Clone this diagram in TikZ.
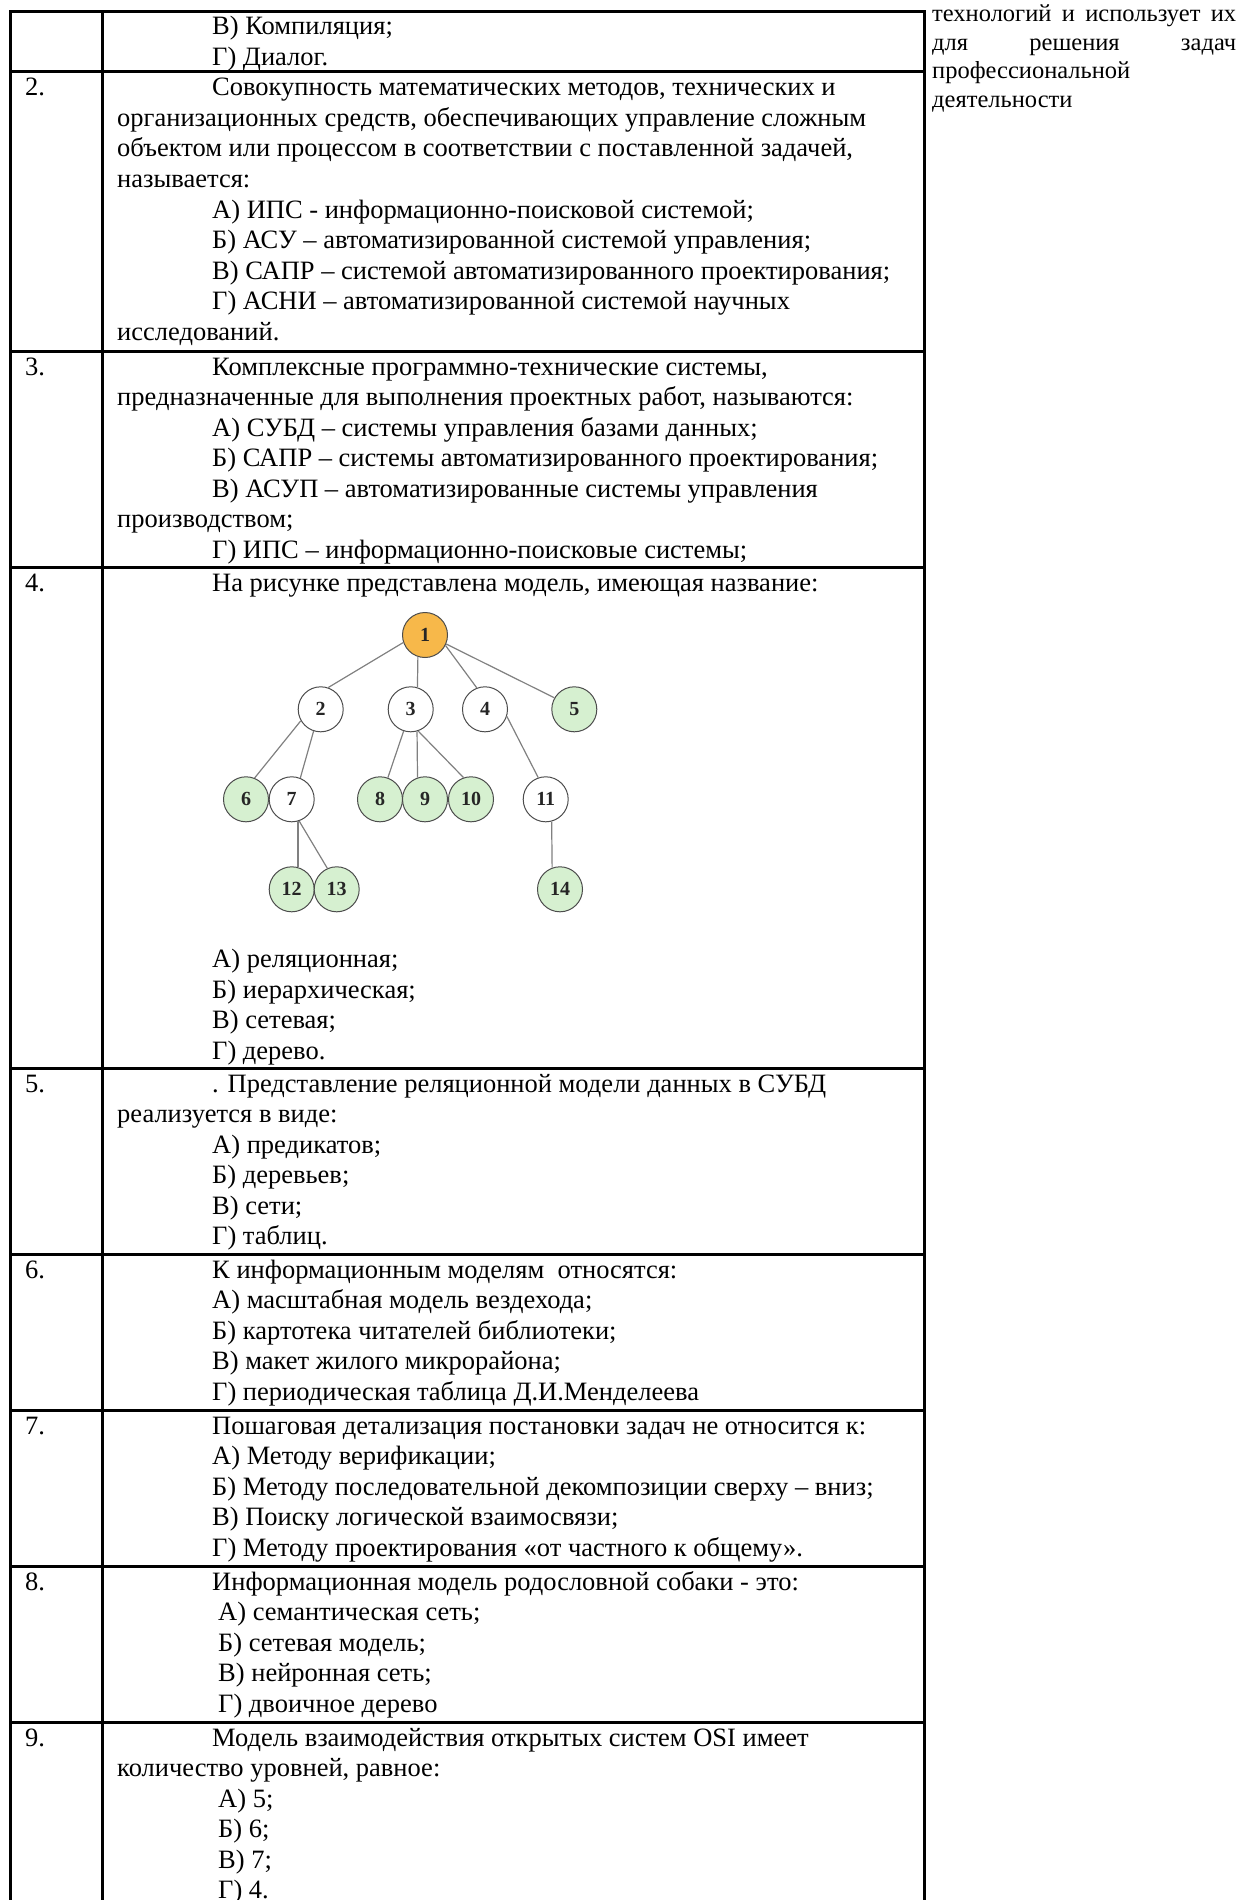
\documentclass[tikz,border=0pt]{standalone}
\usepackage{fontspec}
\setmainfont{Liberation Serif}
\usepackage{tikz}
\usetikzlibrary{arrows,shapes}

\definecolor{rootorange}{RGB}{247,184,74}
\definecolor{leafgreen}{RGB}{214,240,208}

\begin{document}
\begin{tikzpicture}[x=1pt,y=-1pt,
    rule/.style={line width=3pt},
    txt/.style={anchor=base west,inner sep=0pt,font=\fontsize{26.5}{30.5}\selectfont},
    side/.style={anchor=base west,inner sep=0pt,font=\fontsize{24.5}{29}\selectfont},
    vert/.style={circle,draw=black!70,line width=1pt,minimum size=45pt,inner sep=0pt,
                 font=\fontsize{20}{20}\selectfont\bfseries,text=black!85},
    leaf/.style={vert,fill=leafgreen},
    root/.style={vert,fill=rootorange},
    edge/.style={draw=black!50,line width=1.2pt}]
\useasboundingbox (0,0) rectangle (1240,1900);

% table frame
\draw[rule] (10,1900) -- (10,12) -- (924,12) -- (924,1900);
\draw[rule] (102,12) -- (102,1900);
\draw[rule] (10,72) -- (924,72);
\draw[rule] (10,351) -- (924,351);
\draw[rule] (10,567) -- (924,567);
\draw[rule] (10,1068) -- (924,1068);
\draw[rule] (10,1254) -- (924,1254);
\draw[rule] (10,1410) -- (924,1410);
\draw[rule] (10,1566) -- (924,1566);
\draw[rule] (10,1722) -- (924,1722);

% right column
\node[side] (s1) at (932,22) {\makebox[304pt][s]{технологий и использует их}};
\node[side] (s2) at (932,50.5) {\makebox[304pt][s]{для решения задач}};
\node[side] (s3) at (932,79) {профессиональной};
\node[side] (s4) at (932,107.5) {деятельности};

% row 1
\node[txt] (r1c) at (212,35) {В) Компиляция;};
\node[txt] (r1d) at (212,65.5) {Г) Диалог.};

% row 2
\node[txt] (r2n) at (25,96) {2.};
\node[txt] (r2q1) at (212,96) {Совокупность математических методов, технических и};
\node[txt] (r2q2) at (117,126.5) {организационных средств, обеспечивающих управление сложным};
\node[txt] (r2q3) at (117,157) {объектом или процессом в соответствии с поставленной задачей,};
\node[txt] (r2q4) at (117,187.5) {называется:};
\node[txt] (r2a) at (212,218) {А) ИПС - информационно-поисковой системой;};
\node[txt] (r2b) at (212,248.5) {Б) АСУ – автоматизированной системой управления;};
\node[txt] (r2c) at (212,279) {В) САПР – системой автоматизированного проектирования;};
\node[txt] (r2d) at (212,309.5) {Г) АСНИ – автоматизированной системой научных};
\node[txt] (r2e) at (117,340) {исследований.};

% row 3
\node[txt] (r3n) at (25,375) {3.};
\node[txt] (r3q1) at (212,375) {Комплексные программно-технические системы,};
\node[txt] (r3q2) at (117,405.5) {предназначенные для выполнения проектных работ, называются:};
\node[txt] (r3a) at (212,436) {А) СУБД – системы управления базами данных;};
\node[txt] (r3b) at (212,466.5) {Б) САПР – системы автоматизированного проектирования;};
\node[txt] (r3c) at (212,497) {В) АСУП – автоматизированные системы управления};
\node[txt] (r3c2) at (117,527.5) {производством;};
\node[txt] (r3d) at (212,558) {Г) ИПС – информационно-поисковые системы;};

% row 4
\node[txt] (r4n) at (25,591) {4.};
\node[txt] (r4q) at (212,591) {На рисунке представлена модель, имеющая название:};

% tree
\node[root] (n1) at (425,635) {1};
\node[vert] (n2) at (320.7,709.3) {2};
\node[vert] (n3) at (410.7,709.3) {3};
\node[vert] (n4) at (485,709.3) {4};
\node[leaf] (n5) at (574.3,709.3) {5};
\node[leaf] (n6) at (246,799.3) {6};
\node[vert] (n7) at (291.7,799.3) {7};
\node[leaf] (n8) at (380,799.3) {8};
\node[leaf] (n9) at (425,799.3) {9};
\node[leaf] (n10) at (471,799.3) {10};
\node[vert] (n11) at (545.7,799.3) {11};
\node[leaf] (n12) at (291.7,889.3) {12};
\node[leaf] (n13) at (336.7,889.3) {13};
\node[leaf] (n14) at (560,889.3) {14};
\draw[edge] (n1.-161) -- (n2.71);
\draw[edge] (n1.-108) -- (n3.73);
\draw[edge] (n1.-27) -- (n4.111);
\draw[edge] (n1.-23) -- (n5.150);
\draw[edge] (n2.-150) -- (n6.68);
\draw[edge] (n2.-108) -- (n7.68);
\draw[edge] (n3.-108) -- (n8.70);
\draw[edge] (n3.-74) -- (n9.109);
\draw[edge] (n3.-71) -- (n10.109);
\draw[edge] (n4.-18) -- (n11.109);
\draw[edge] (n7.-74) -- (n12.74);
\draw[edge] (n7.-71) -- (n13.114);
\draw[edge] (n11.-75) -- (n14.110);

\node[txt] (r4a) at (212,967.5) {А) реляционная;};
\node[txt] (r4b) at (212,998) {Б) иерархическая;};
\node[txt] (r4c) at (212,1028.5) {В) сетевая;};
\node[txt] (r4d) at (212,1059) {Г) дерево.};

% row 5
\node[txt] (r5n) at (25,1092) {5.};
\node[txt] (r5q1) at (212,1092) {. Представление реляционной модели данных в СУБД};
\node[txt] (r5q2) at (117,1122.5) {реализуется в виде:};
\node[txt] (r5a) at (212,1153) {А) предикатов;};
\node[txt] (r5b) at (212,1183.5) {Б) деревьев;};
\node[txt] (r5c) at (212,1214) {В) сети;};
\node[txt] (r5d) at (212,1244.5) {Г) таблиц.};

% row 6
\node[txt] (r6n) at (25,1278) {6.};
\node[txt] (r6q) at (212,1278) {К информационным моделям\ \ относятся:};
\node[txt] (r6a) at (212,1308.5) {А) масштабная модель вездехода;};
\node[txt] (r6b) at (212,1339) {Б) картотека читателей библиотеки;};
\node[txt] (r6c) at (212,1369.5) {В) макет жилого микрорайона;};
\node[txt] (r6d) at (212,1400) {Г) периодическая таблица Д.И.Менделеева};

% row 7
\node[txt] (r7n) at (25,1434) {7.};
\node[txt] (r7q) at (212,1434) {Пошаговая детализация постановки задач не относится к:};
\node[txt] (r7a) at (212,1464.5) {А) Методу верификации;};
\node[txt] (r7b) at (212,1495) {Б) Методу последовательной декомпозиции сверху – вниз;};
\node[txt] (r7c) at (212,1525.5) {В) Поиску логической взаимосвязи;};
\node[txt] (r7d) at (212,1556) {Г) Методу проектирования «от частного к общему».};

% row 8
\node[txt] (r8n) at (25,1590) {8.};
\node[txt] (r8q) at (212,1590) {Информационная модель родословной собаки - это:};
\node[txt] (r8a) at (218,1620.5) {А) семантическая сеть;};
\node[txt] (r8b) at (218,1651) {Б) сетевая модель;};
\node[txt] (r8c) at (218,1681.5) {В) нейронная сеть;};
\node[txt] (r8d) at (218,1712) {Г) двоичное дерево};

% row 9
\node[txt] (r9n) at (25,1746) {9.};
\node[txt] (r9q1) at (212,1746) {Модель взаимодействия открытых систем OSI имеет};
\node[txt] (r9q2) at (117,1776.5) {количество уровней, равное:};
\node[txt] (r9a) at (218,1807) {А) 5;};
\node[txt] (r9b) at (218,1837.5) {Б) 6;};
\node[txt] (r9c) at (218,1868) {В) 7;};
\node[txt] (r9d) at (218,1898.5) {Г) 4.};
\end{tikzpicture}
\end{document}
